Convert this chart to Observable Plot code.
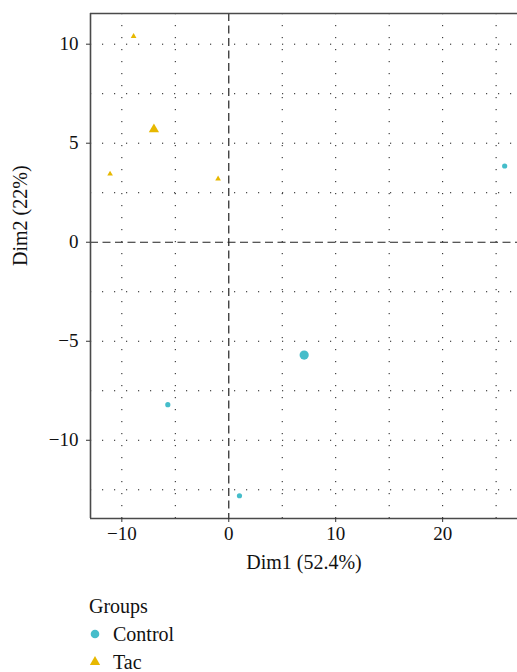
<!DOCTYPE html>
<html><head><meta charset="utf-8">
<script src="https://cdn.jsdelivr.net/npm/d3@7"></script>
<script src="https://cdn.jsdelivr.net/npm/@observablehq/plot@0.6"></script>
<style>
body{margin:0;background:#fff;font-family:'Liberation Serif',serif;}
#wrap{position:relative;width:517px;height:672px;}
#legend{position:absolute;left:0;top:585px;width:517px;height:87px;font-family:'Liberation Serif',serif;font-size:20px;color:#111;}
#legend div{position:absolute;line-height:22px;white-space:nowrap;}
</style></head><body><div id="wrap"><div id="chart"></div><div id="legend"></div></div>
<script>
// individual samples
const groups = ["Tac", "Tac", "Tac", "Control", "Control", "Control"];
const dim1 = [-8.9, -11.1, -1.0, 25.8, -5.7, 1.0];
const dim2 = [10.4, 3.45, 3.2, 3.85, -8.2, -12.8];
// group means (centroids)
const meanGroups = ["Tac", "Control"];
const meanDim1 = [-7.0, 7.05];
const meanDim2 = [5.7, -5.7];
// axes
const xTicks = [-10, 0, 10, 20];
const yTicks = [-10, -5, 0, 5, 10];
const xGrid = [-10, -5, 5, 10, 15, 20, 25];
const yGrid = [-12.5, -10, -7.5, -5, -2.5, 2.5, 5, 7.5, 10];
const xDomain = [-12.93, 27.0];
const yDomain = [-13.95, 11.55];
const groupNames = ["Control", "Tac"];
const groupColors = ["#45BDCA", "#E7B800"];
const groupSymbols = ["circle", "triangle"];

const pts = groups.map((g, i) => ({g, x: dim1[i], y: dim2[i]}));
const means = meanGroups.map((g, i) => ({g, x: meanDim1[i], y: meanDim2[i]}));
const minus = d => d < 0 ? "\u2212" + Math.abs(d) : String(d);

const FONT = "'Liberation Serif', serif";
const grid = {stroke: "#000", strokeWidth: 1, strokeDasharray: "1.2 10.8", strokeOpacity: 0.9};
const axisLine = {stroke: "#4a4a4a", strokeWidth: 1.6};
const zeroLine = {stroke: "#222", strokeWidth: 1.2, strokeDasharray: "8 4.5"};

const chart = Plot.plot({
  width: 517, height: 585,
  marginLeft: 90, marginRight: 0, marginTop: 13, marginBottom: 67,
  style: {fontFamily: FONT, fontSize: "19px", color: "#111", background: "#fff"},
  x: {domain: xDomain},
  y: {domain: yDomain},
  color: {domain: groupNames, range: groupColors},
  symbol: {domain: groupNames, range: groupSymbols},
  marks: [
    Plot.ruleX(xGrid, grid),
    Plot.ruleY(yGrid, grid),
    Plot.ruleX([0], zeroLine),
    Plot.ruleY([0], zeroLine),
    Plot.ruleY([yDomain[1]], axisLine),
    Plot.ruleY([yDomain[0]], axisLine),
    Plot.ruleX([xDomain[0]], axisLine),
    Plot.axisX({ticks: xTicks, tickSize: 4, tickPadding: 4, tickFormat: minus, label: null, fontSize: 19, fontFamily: FONT, stroke: "#333", fill: "#111"}),
    Plot.axisY({ticks: yTicks, tickSize: 4, tickPadding: 8, tickFormat: minus, label: null, fontSize: 19, fontFamily: FONT, stroke: "#333", fill: "#111"}),
    Plot.text(["Dim1 (52.4%)"], {frameAnchor: "bottom", dy: 50, fontSize: 20, fontFamily: FONT, fill: "#111"}),
    Plot.text(["Dim2 (22%)"], {frameAnchor: "left", dx: -70, rotate: -90, fontSize: 20, fontFamily: FONT, fill: "#111"}),
    Plot.dot(pts.filter(d => d.g === "Control"), {x: "x", y: "y", fill: "g", symbol: "g", r: 2.6, stroke: null}),
    Plot.dot(pts.filter(d => d.g === "Tac"), {x: "x", y: "y", fill: "g", symbol: "g", r: 2.1, stroke: null}),
    Plot.dot(means.filter(d => d.g === "Control"), {x: "x", y: "y", fill: "g", symbol: "g", r: 4.6, stroke: null}),
    Plot.dot(means.filter(d => d.g === "Tac"), {x: "x", y: "y", fill: "g", symbol: "g", r: 3.8, stroke: null})
  ]
});
document.getElementById("chart").appendChild(chart);

// legend
const leg = document.getElementById("legend");
function addDiv(html, left, cy) {
  const el = document.createElement("div");
  el.style.left = left + "px";
  el.style.top = (cy - 11) + "px";
  el.innerHTML = html;
  leg.appendChild(el);
}
addDiv("Groups", 89, 21);
const sym = (s, c) => {
  const p = d3.symbol(s === "circle" ? d3.symbolCircle : d3.symbolTriangle, s === "circle" ? 58 : 46)();
  return `<svg width="12" height="12" style="position:absolute;left:-6px;top:5px;overflow:visible"><path transform="translate(6,6)" d="${p}" fill="${c}"/></svg>`;
};
groupNames.forEach((g, i) => {
  addDiv(sym(groupSymbols[i], groupColors[i]), 95, [49, 77][i]);
  addDiv(g, 113, [49, 77][i]);
});
</script></body></html>
